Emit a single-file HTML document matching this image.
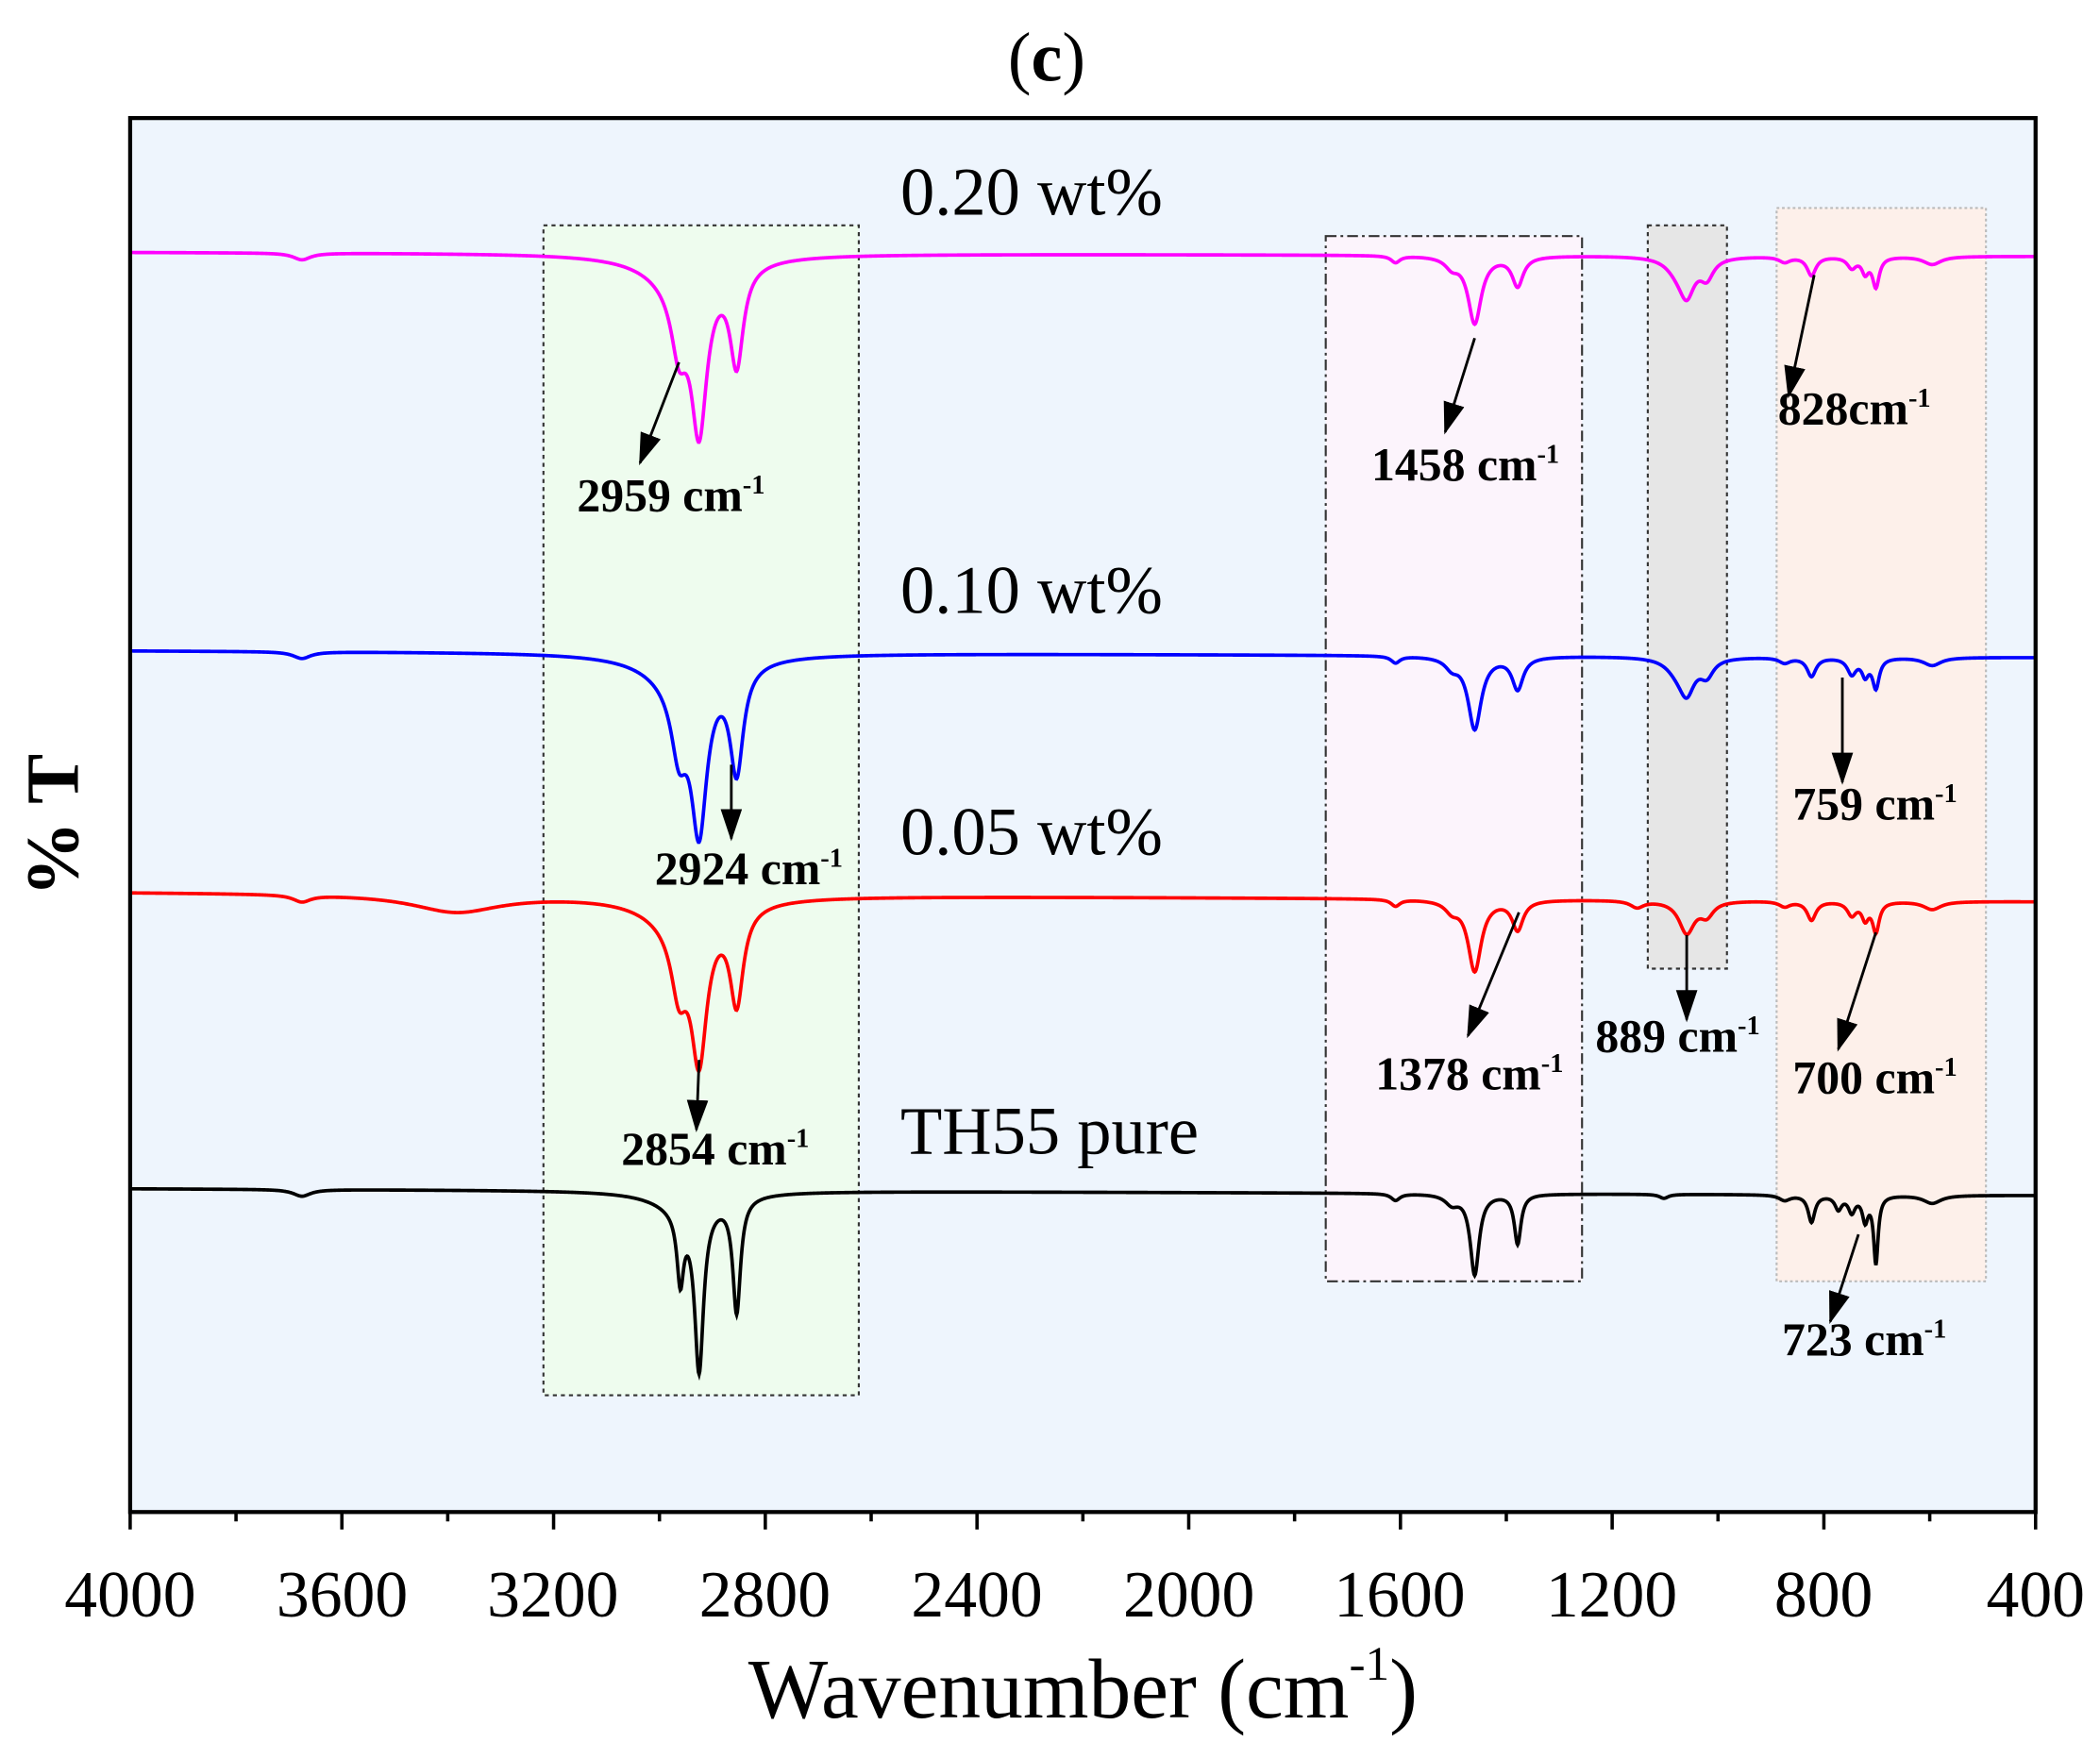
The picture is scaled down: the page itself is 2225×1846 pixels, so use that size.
<!DOCTYPE html>
<html><head><meta charset="utf-8"><style>
html,body{margin:0;padding:0;background:#fff;}
svg{display:block;}
text{font-family:"Liberation Serif",serif;}
.ann{font-weight:bold;font-size:35px;}
.ser{font-size:51px;}
.tick{font-size:49px;}
</style></head><body>
<svg id="s" width="2225" height="1846" viewBox="0 0 1565 1298.4" xmlns="http://www.w3.org/2000/svg">
<defs><marker id="ah" markerWidth="24" markerHeight="16" refX="22" refY="8" orient="auto" markerUnits="userSpaceOnUse" viewBox="0 0 24 16"><path d="M0,0 L24,8 L0,16 z" fill="#000"/></marker></defs>
<rect x="0" y="0" width="1565" height="1298.4" fill="#fff"/>
<text x="780" y="60" text-anchor="middle" style="font-size:52px">(<tspan font-weight="bold">c</tspan>)</text>
<rect x="97" y="88" width="1420" height="1039" fill="#eef5fd"/>
<rect x="405" y="168" width="235" height="872" fill="#eefcee" stroke="#333" stroke-width="1.5" stroke-dasharray="3,3"/>
<rect x="988" y="176" width="191" height="779" fill="#fcf4fc" stroke="#333" stroke-width="1.5" stroke-dasharray="8,3,2,3"/>
<rect x="1228" y="168" width="59" height="554" fill="#e6e6e6" stroke="#333" stroke-width="1.5" stroke-dasharray="3,3"/>
<rect x="1324" y="155" width="156" height="800" fill="#fdf0ea" stroke="#bbb" stroke-width="1.5" stroke-dasharray="2,2"/>
<g id="curves" fill="none" stroke-width="2.6"></g>
<rect x="97" y="88" width="1420" height="1039" fill="none" stroke="#000" stroke-width="3"/>
<g id="ticks" stroke="#000" stroke-width="2.5"></g>
<g class="tick" text-anchor="middle">
<text x="97" y="1205">4000</text><text x="255" y="1205">3600</text><text x="412" y="1205">3200</text><text x="570" y="1205">2800</text><text x="728" y="1205">2400</text><text x="886" y="1205">2000</text><text x="1043" y="1205">1600</text><text x="1201" y="1205">1200</text><text x="1359" y="1205">800</text><text x="1517" y="1205">400</text>
</g>
<text x="807" y="1280" text-anchor="middle" style="font-size:63px">Wavenumber (cm<tspan dy="-28" style="font-size:36px">-1</tspan><tspan dy="28">)</tspan></text>
<text transform="translate(58,615) rotate(-90)" text-anchor="middle" style="font-size:56px;font-weight:bold">% T</text>
<g class="ser">
<text x="671" y="160">0.20 wt%</text><text x="671" y="457">0.10 wt%</text><text x="671" y="637">0.05 wt%</text><text x="671" y="860">TH55 pure</text>
</g>
<g stroke="#000" stroke-width="2" marker-end="url(#ah)">
<line x1="506" y1="270" x2="477" y2="345"/>
<line x1="545" y1="570" x2="545" y2="625"/>
<line x1="521" y1="790" x2="519" y2="842"/>
<line x1="1099" y1="252" x2="1077" y2="322"/>
<line x1="1352" y1="205" x2="1333" y2="295"/>
<line x1="1373" y1="505" x2="1373" y2="583"/>
<line x1="1132" y1="680" x2="1094" y2="772"/>
<line x1="1257" y1="697" x2="1257" y2="760"/>
<line x1="1398" y1="695" x2="1370" y2="782"/>
<line x1="1385" y1="920" x2="1364" y2="985"/>
</g>
<g class="ann">
<text x="430" y="381">2959 cm<tspan dy="-13" style="font-size:20px">-1</tspan></text>
<text x="488" y="659">2924 cm<tspan dy="-13" style="font-size:20px">-1</tspan></text>
<text x="463" y="868">2854 cm<tspan dy="-13" style="font-size:20px">-1</tspan></text>
<text x="1022" y="358">1458 cm<tspan dy="-13" style="font-size:20px">-1</tspan></text>
<text x="1325" y="316">828cm<tspan dy="-13" style="font-size:20px">-1</tspan></text>
<text x="1336" y="611">759 cm<tspan dy="-13" style="font-size:20px">-1</tspan></text>
<text x="1025" y="812">1378 cm<tspan dy="-13" style="font-size:20px">-1</tspan></text>
<text x="1189" y="784">889 cm<tspan dy="-13" style="font-size:20px">-1</tspan></text>
<text x="1336" y="815">700 cm<tspan dy="-13" style="font-size:20px">-1</tspan></text>
<text x="1328" y="1010">723 cm<tspan dy="-13" style="font-size:20px">-1</tspan></text>
</g>
</svg>
<script>
(function(){
var NS="http://www.w3.org/2000/svg";
var tg=document.getElementById("ticks");
for(var w=4000;w>=400;w-=200){var x=97+(4000-w)*1420/3600;var l=document.createElementNS(NS,"line");
l.setAttribute("x1",x);l.setAttribute("x2",x);l.setAttribute("y1",1127);l.setAttribute("y2",w%400==0?1140:1134);tg.appendChild(l);}
var common=[[225,5,8],[1040,5,4],[1082,7,6],[1440,6,8],[1330,4,5]];
var S=[
 {c:"#ff00ff",b:188,e:191,p:[[510,22,30],[506,45,7],[521,110,7],[549,72,6],[1099,50,6],[1131,22,5],[1257,26,7],[1272,14,6],[1250,8,10],[1350,14,4],[1380,8,4],[1390,11,3],[1398,22,3]]},
 {c:"#0000ff",b:485,e:490,p:[[510,22,30],[506,47,7],[521,110,7],[549,78,6],[1099,54,6],[1131,24,5],[1257,24,7],[1272,12,6],[1250,8,10],[1350,14,4],[1380,12,4],[1390,12,3],[1398,22,3]]},
 {c:"#ff0000",b:665,e:672,p:[[340,13,40],[510,22,30],[506,45,7],[521,100,7],[549,70,6],[1099,53,6],[1131,22,5],[1257,24,7],[1272,10,6],[1220,5,6],[1350,14,4],[1380,10,4],[1390,12,3],[1398,22,3]]},
 {c:"#000000",b:886,e:891,p:[[512,15,25],[507,50,3],[521,120,4],[549,85,3.5],[1099,60,4],[1131,37,3],[1240,3,4],[1350,20,3],[1370,10,3],[1380,12,3],[1390,18,2.5],[1398,50,2]]}
];
var g=document.getElementById("curves");
S.forEach(function(s){var d="";var P=s.p.concat(common);
 for(var x=98;x<=1516;x+=0.5){var y=s.b+(s.e-s.b)*(x-98)/1418;
  P.forEach(function(p){var u=(x-p[0])/p[2];y+=p[1]/(1+u*u);});
  d+=(d?"L":"M")+x.toFixed(1)+","+y.toFixed(2);}
 var pa=document.createElementNS(NS,"path");pa.setAttribute("d",d);pa.setAttribute("stroke",s.c);g.appendChild(pa);});
})();
</script>
</body></html>
